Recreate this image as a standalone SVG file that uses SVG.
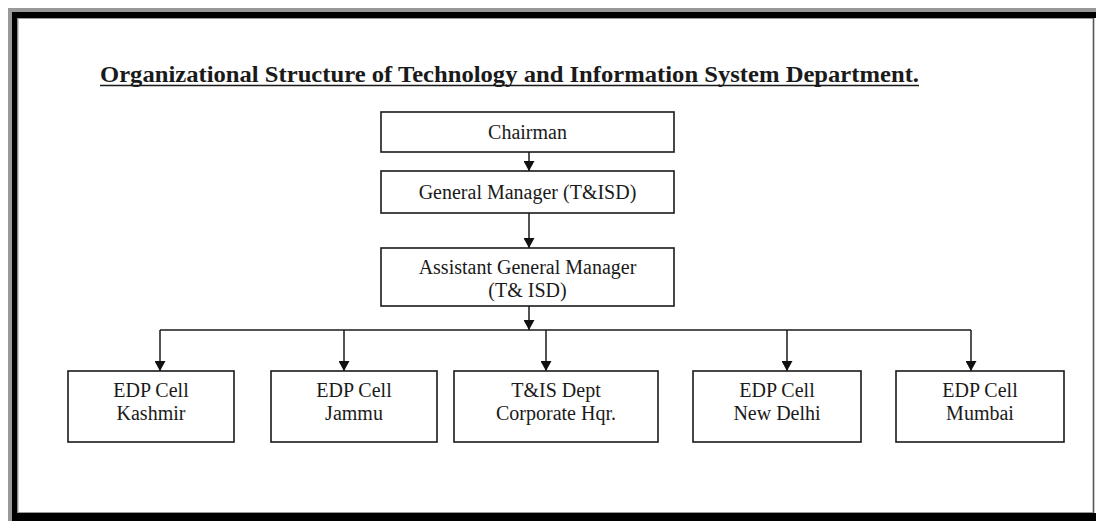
<svg xmlns="http://www.w3.org/2000/svg" width="1096" height="521" viewBox="0 0 1096 521">
<style>
.box{fill:#fff;stroke:#1a1a1a;stroke-width:1.6}
.lbl{font-family:"Liberation Serif","Times New Roman",serif;font-size:20px;fill:#1a1a1a;text-anchor:middle}
.con{stroke:#1a1a1a;stroke-width:1.5;fill:none}
</style>
<defs>
<marker id="ah" markerUnits="userSpaceOnUse" markerWidth="10" markerHeight="11" refX="10" refY="5.5" orient="auto">
<path d="M0,0 L10,5.5 L0,11 z" fill="#111"/>
</marker>
</defs>
<rect width="1096" height="521" fill="#fff"/>
<g id="frame">
<rect x="8" y="8" width="4" height="513" fill="#999"/>
<rect x="8" y="8" width="1088" height="4" fill="#999"/>
<rect x="12" y="12" width="5.5" height="509" fill="#000"/>
<rect x="12" y="12" width="1084" height="6" fill="#000"/>
<rect x="12" y="513" width="1084" height="8" fill="#000"/>
<line x1="18" y1="18.5" x2="1093" y2="18.5" stroke="#999" stroke-width="1"/>
<line x1="18" y1="18" x2="18" y2="513" stroke="#999" stroke-width="1"/>
<line x1="1093.5" y1="18" x2="1093.5" y2="513" stroke="#555" stroke-width="1.6"/>
<line x1="18" y1="512.5" x2="1093" y2="512.5" stroke="#999" stroke-width="1"/>
</g>
<g id="title">
<text x="100" y="82" font-family="'Liberation Serif','Times New Roman',serif" font-size="23.5" font-weight="bold" fill="#1a1a1a" textLength="819" lengthAdjust="spacingAndGlyphs">Organizational Structure of Technology and Information System Department.</text>
<line x1="100" y1="85.5" x2="919" y2="85.5" stroke="#1a1a1a" stroke-width="1.6"/>
</g>
<g id="connectors">
<line class="con" x1="529" y1="152" x2="529" y2="171" marker-end="url(#ah)"/>
<line class="con" x1="529" y1="213" x2="529" y2="248" marker-end="url(#ah)"/>
<line class="con" x1="529" y1="306" x2="529" y2="330" marker-end="url(#ah)"/>
<line class="con" x1="160" y1="330" x2="971" y2="330"/>
<line class="con" x1="160" y1="330" x2="160" y2="371" marker-end="url(#ah)"/>
<line class="con" x1="344" y1="330" x2="344" y2="371" marker-end="url(#ah)"/>
<line class="con" x1="546" y1="330" x2="546" y2="371" marker-end="url(#ah)"/>
<line class="con" x1="787" y1="330" x2="787" y2="371" marker-end="url(#ah)"/>
<line class="con" x1="971" y1="330" x2="971" y2="371" marker-end="url(#ah)"/>
</g>
<g id="chairman">
<rect class="box" x="381" y="112" width="293" height="40"/>
<text class="lbl" x="527.5" y="139">Chairman</text>
</g>
<g id="gm">
<rect class="box" x="381" y="171" width="293" height="42"/>
<text class="lbl" x="527.5" y="199">General Manager (T&amp;ISD)</text>
</g>
<g id="agm">
<rect class="box" x="381" y="248" width="293" height="58"/>
<text class="lbl" x="527.5" y="274">Assistant General Manager</text>
<text class="lbl" x="527.5" y="297">(T&amp; ISD)</text>
</g>
<g id="kashmir">
<rect class="box" x="68" y="371" width="166" height="71"/>
<text class="lbl" x="151" y="397">EDP Cell</text>
<text class="lbl" x="151" y="420">Kashmir</text>
</g>
<g id="jammu">
<rect class="box" x="271" y="371" width="166" height="71"/>
<text class="lbl" x="354" y="397">EDP Cell</text>
<text class="lbl" x="354" y="420">Jammu</text>
</g>
<g id="corporate">
<rect class="box" x="454" y="371" width="204" height="71"/>
<text class="lbl" x="556" y="397">T&amp;IS Dept</text>
<text class="lbl" x="556" y="420">Corporate Hqr.</text>
</g>
<g id="newdelhi">
<rect class="box" x="693" y="371" width="168" height="71"/>
<text class="lbl" x="777" y="397">EDP Cell</text>
<text class="lbl" x="777" y="420">New Delhi</text>
</g>
<g id="mumbai">
<rect class="box" x="896" y="371" width="168" height="71"/>
<text class="lbl" x="980" y="397">EDP Cell</text>
<text class="lbl" x="980" y="420">Mumbai</text>
</g>
</svg>
